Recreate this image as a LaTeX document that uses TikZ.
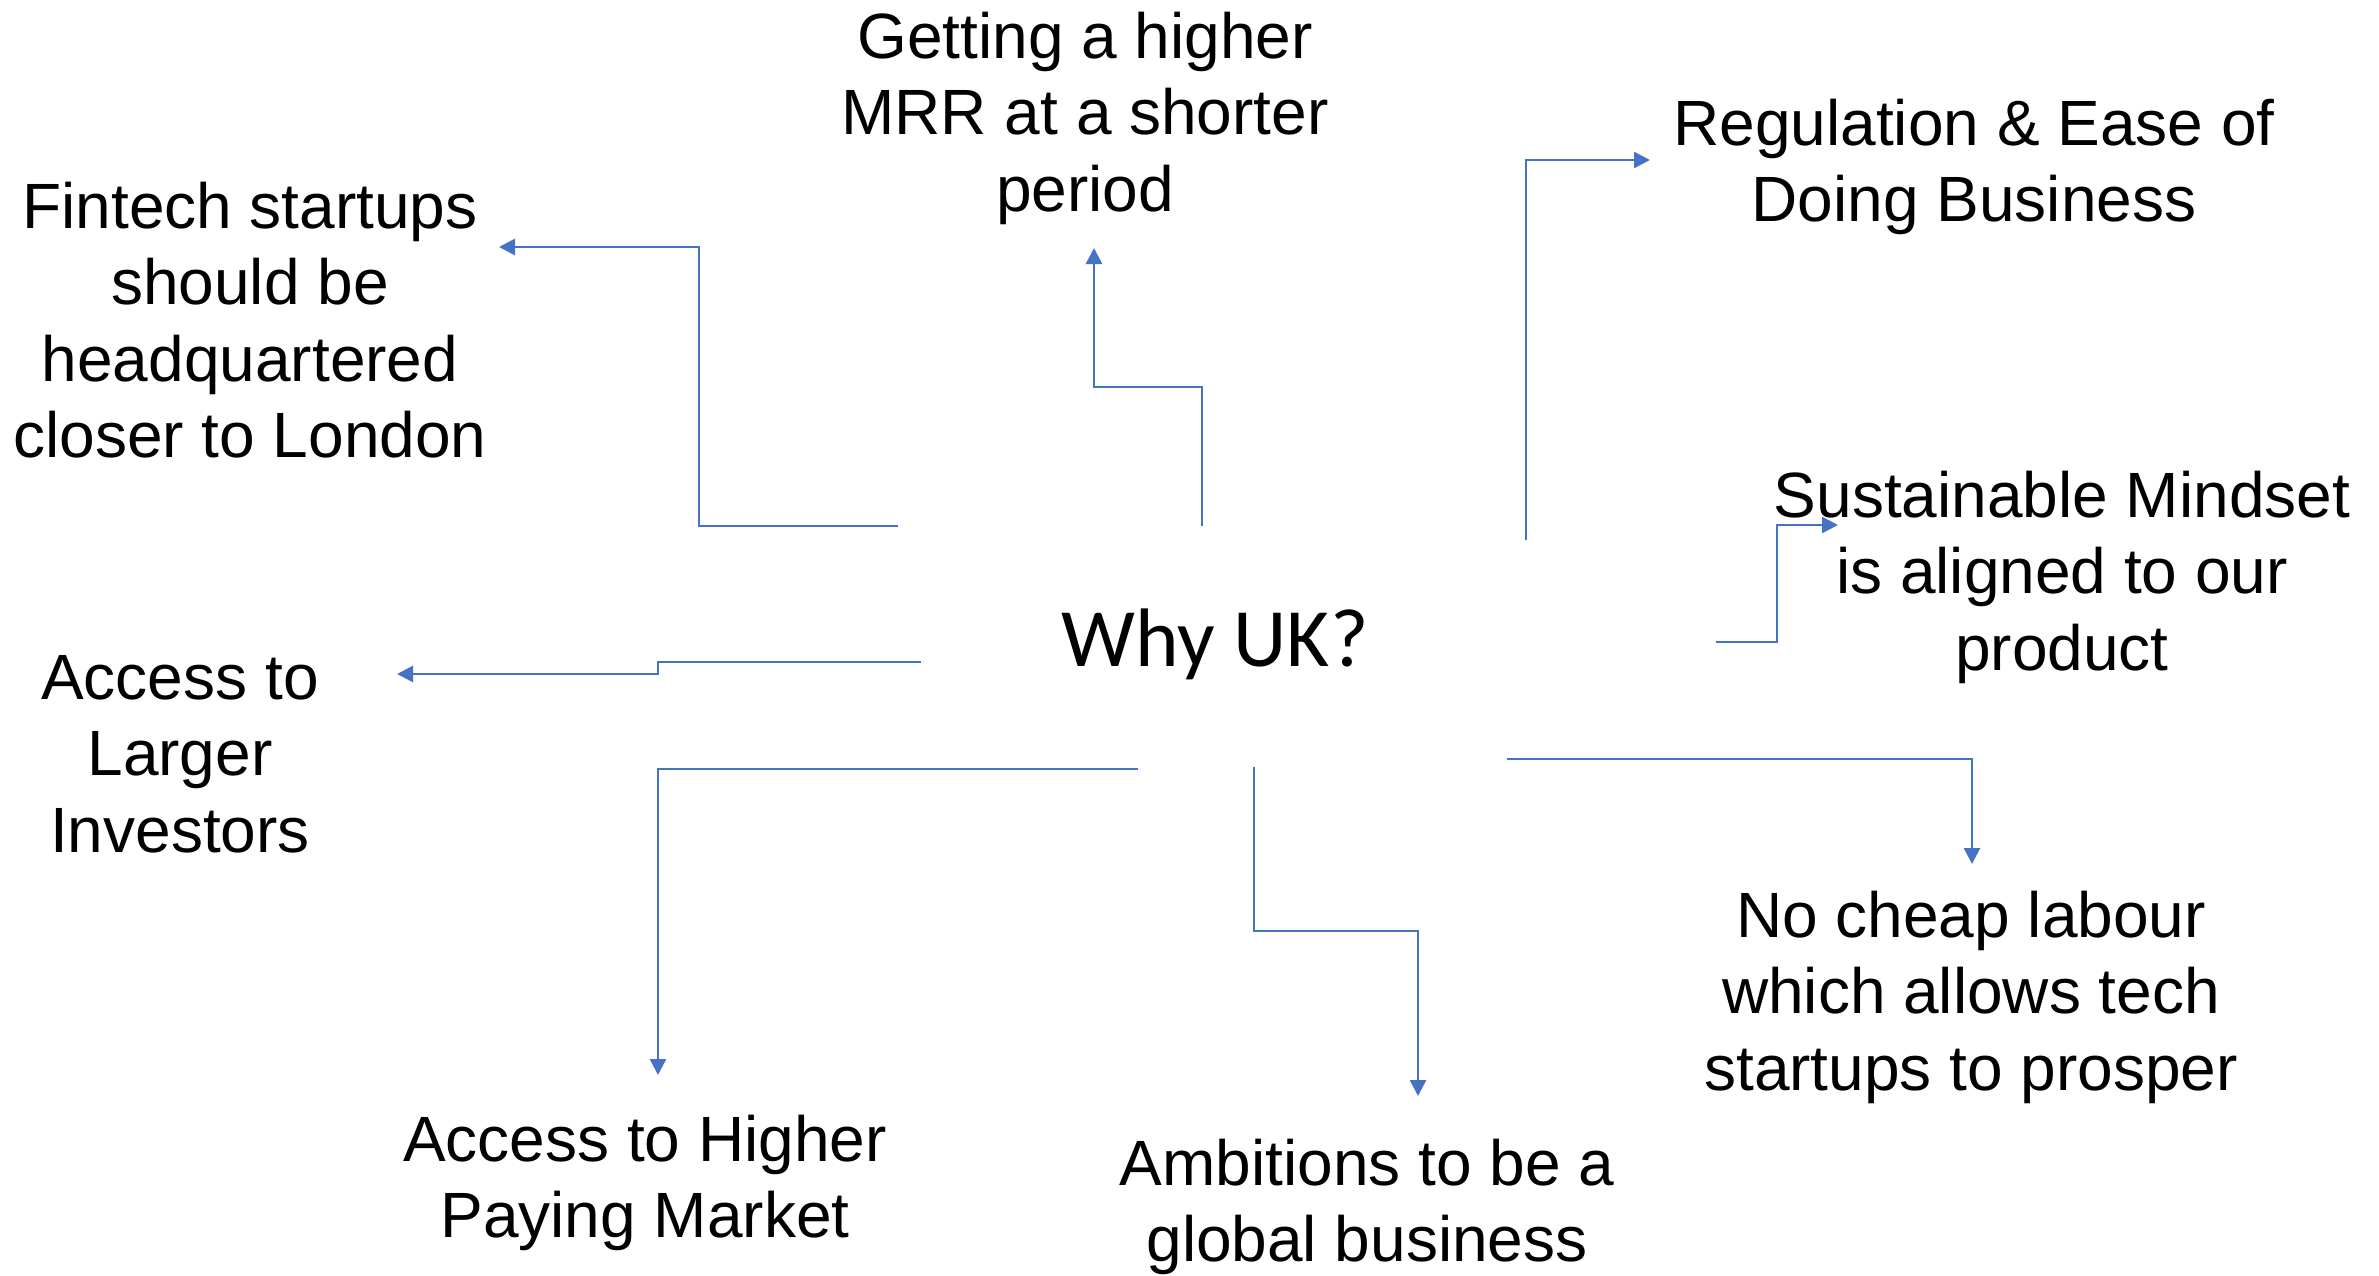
\documentclass[tikz,border=0pt]{standalone}
\usepackage{fontspec}
\setmainfont{Liberation Sans}
\newfontfamily\calib{Carlito}
\usetikzlibrary{arrows.meta}
\definecolor{conblue}{HTML}{4472C4}
\begin{document}
\begin{tikzpicture}[x=1pt,y=-1pt,
  lbl/.style={align=center,inner sep=0pt,font=\fontsize{64}{76.5}\selectfont},
  conn/.style={draw=conblue,line width=2.6pt,-{Triangle[length=16pt,width=16pt]}}]
\useasboundingbox (0,0) rectangle (2379,1276);
% center
\node[inner sep=0pt,font=\calib\fontsize{83}{100}\selectfont] (why) at (1215,644) {Why UK?};
% labels
\node[lbl] (fin) at (250,320) {Fintech startups\\should be\\headquartered\\closer to London};
\node[lbl] (mrr) at (1085,118) {Getting a higher\\MRR at a shorter\\period};
\node[lbl] (reg) at (1974,167) {Regulation \& Ease of\\Doing Business};
\node[lbl] (sus) at (2062,577) {Sustainable Mindset\\is aligned to our\\product};
\node[lbl] (inv) at (180,754) {Access to\\Larger\\Investors};
\node[lbl] (mkt) at (645,1183) {Access to Higher\\Paying Market};
\node[lbl] (amb) at (1367,1207) {Ambitions to be a\\global business};
\node[lbl] (lab) at (1971,997) {No cheap labour\\which allows tech\\startups to prosper};
% connector ends
\coordinate (s1) at (898,526);  \coordinate (t1) at (499,247);
\coordinate (s2) at (1202,526); \coordinate (t2) at (1094,248);
\coordinate (s3) at (1526,540); \coordinate (t3) at (1650,160);
\coordinate (s4) at (1716,642); \coordinate (t4) at (1838,525);
\coordinate (s5) at (921,662);  \coordinate (t5) at (397,674);
\coordinate (s6) at (1138,769); \coordinate (t6) at (658,1075);
\coordinate (s7) at (1254,767); \coordinate (t7) at (1418,1096);
\coordinate (s8) at (1507,759); \coordinate (t8) at (1972,864);
% connectors
\draw[conn] (s1) -- (699,526) |- (t1);
\draw[conn] (s2) |- (1094,387) -- (t2);
\draw[conn] (s3) |- (t3);
\draw[conn] (s4) -| (1777,525) -- (t4);
\draw[conn] (s5) -| (658,674) -- (t5);
\draw[conn] (s6) -| (t6);
\draw[conn] (s7) |- (1418,931) -- (t7);
\draw[conn] (s8) -| (t8);
\end{tikzpicture}
\end{document}
